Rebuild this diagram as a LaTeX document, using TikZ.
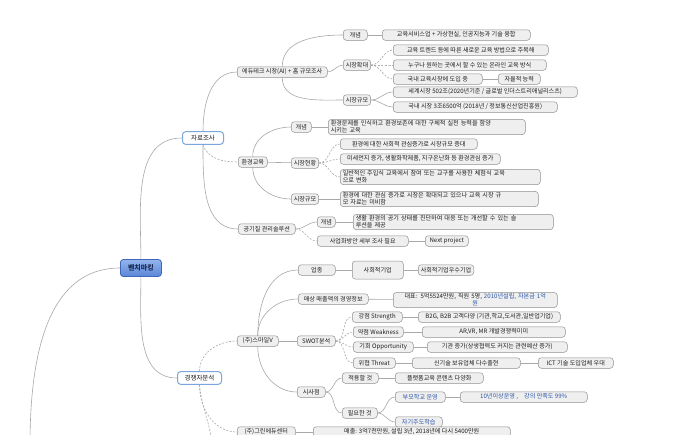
\documentclass[tikz,border=0pt]{standalone}
\usepackage{fontspec}
\setmainfont{Noto Sans CJK KR}
\definecolor{boxfill}{HTML}{EFEFEF}
\definecolor{boxline}{HTML}{909090}
\definecolor{txt}{HTML}{1E1E1E}
\definecolor{lvblue}{HTML}{7BA6DE}
\definecolor{rootline}{HTML}{3F66B8}
\definecolor{roottxt}{HTML}{1B2A55}
\definecolor{lncol}{HTML}{A8A8A8}
\definecolor{bluetxt}{HTML}{2A55A8}
\definecolor{rootA}{HTML}{93B5EE}
\definecolor{rootB}{HTML}{5A86D6}
\pgfdeclarelayer{bg}
\pgfsetlayers{bg,main}
\begin{document}
\begin{tikzpicture}[x=1pt,y=1pt,
  nb/.style={draw=boxline, fill=boxfill, rounded corners=3pt, line width=0.5pt, inner xsep=2.5pt, inner ysep=1.3pt, minimum height=10.5pt, font=\fontsize{6.1}{7}\selectfont, text=txt, anchor=west},
  lv1/.style={draw=lvblue, fill=white, rounded corners=3pt, line width=1pt, minimum height=11.5pt, inner xsep=2pt, font=\fontsize{6.5}{7.5}\selectfont, text=txt, anchor=west},
  rootn/.style={draw=rootline, top color=rootA, bottom color=rootB, rounded corners=3pt, line width=0.8pt, minimum height=17pt, font=\fontsize{7}{8}\selectfont\bfseries, text=roottxt, anchor=west},
  cn/.style={draw=lncol, line width=0.6pt},
  cnd/.style={cn, dash pattern=on 2pt off 1.5pt}
]
\useasboundingbox (0,0) rectangle (700,-434);

% main level
\node[rootn, minimum width=41pt] (root) at (120,-268) {벤치마킹};
\node[lv1, minimum width=41pt] (jr) at (182,-138) {자료조사};
\node[lv1, minimum width=44pt] (comp) at (177,-378) {경쟁자분석};
\coordinate (offbl) at (30,-445);
\coordinate (offc) at (212,-445);

% edutech
\node[nb, minimum width=90pt] (edu) at (237,-72) {에듀테크 시장(AI) + 홈 규모조사};
\node[nb, minimum width=24pt] (g1) at (343,-35) {개념};
\node[nb, minimum width=148pt] (g1c) at (382,-35) {교육서비스업 + 가상현실, 인공지능과 기술 융합};
\node[nb, minimum width=25pt] (exp) at (343,-65) {시장확대};
\node[nb, minimum width=155pt] (e1) at (393,-50) {교육 트렌드 등에 따른 새로운 교육 방법으로 주목해};
\node[nb, minimum width=153pt] (e2) at (393,-65) {누구나 원하는 곳에서 할 수 있는 온라인 교육 방식};
\node[nb, minimum width=89pt] (e3) at (393,-79) {국내 교육시장에 도입 중};
\node[nb, minimum width=42pt] (e3c) at (498,-79) {자율적 능력};
\node[nb, minimum width=25pt] (sz1) at (343,-100) {시장규모};
\node[nb, minimum width=184pt] (s1) at (393,-92) {세계시장 502조(2020년기준 / 글로벌 인더스트리애널리스츠)};
\node[nb, minimum width=164pt] (s2) at (393,-107) {국내 시장 3조6500억 (2018년 / 정보통신산업진흥원)};

% environment education
\node[nb, minimum width=29pt] (env) at (238,-162) {환경교육};
\node[nb, minimum width=20pt] (g2) at (291,-127) {개념};
\node[nb, text width=192pt, align=left] (g2c) at (328,-127) {환경문제를 인식하고 환경보존에 대한 구체적 실천 능력을 함양\\시키는 교육};
\node[nb, minimum width=26pt] (hs) at (291,-163) {시장현황};
\node[nb, minimum width=137pt] (h1) at (340,-144) {환경에 대한 사회적 관심증가로 시장규모 증대};
\node[nb, minimum width=160pt] (h2) at (340,-159) {미세먼지 증가, 생활화학제품, 지구온난화 등 환경관심 증가};
\node[nb, text width=195pt, align=left] (h3) at (340,-177) {일반적인 주입식 교육에서 참여 또는 교구를 사용한 체험식 교육\\으로 변화};
\node[nb, minimum width=26pt] (sz2) at (291,-199) {시장규모};
\node[nb, text width=193pt, align=left] (s3) at (340,-199) {환경에 대한 관심 증가로 시장은 확대되고 있으나 교육 시장 규\\모 자료는 미비함};

% air quality
\node[nb, minimum width=57pt] (air) at (238,-229) {공기질 관리솔루션};
\node[nb, minimum width=18pt] (g3) at (317,-222) {개념};
\node[nb, text width=195pt, align=left] (g3c) at (353,-222) {생활 환경의 공기 상태를 진단하여 대응 또는 개선할 수 있는 솔\\루션을 제공};
\node[nb, minimum width=91pt] (biz) at (317,-241) {사업화방안 세부 조사 필요};
\node[nb, minimum width=43pt] (nxt) at (425,-241) {Next project};

% competitor
\node[nb, minimum width=41pt] (sm) at (237,-341) {(주)스마일V};
\node[nb, minimum width=37pt] (up) at (298,-270) {업종};
\node[nb, minimum width=51pt, minimum height=18pt] (se) at (352,-270) {사회적기업};
\node[nb, minimum width=55pt] (se2) at (418,-270) {사회적기업우수기업};
\node[nb, minimum width=70pt] (ms) at (298,-299) {매상 매출액의 경영정보};
\node[nb, text width=159pt, align=center] (msc) at (393,-300) {대표: 5억5524만원, 직원 5명, \textcolor{bluetxt}{2010년설립, 자본금 1억}\\\textcolor{bluetxt}{원}};
\node[nb, minimum width=38pt] (swot) at (297,-341) {SWOT분석};
\node[nb, minimum width=50pt] (st) at (352,-317) {강점 Strength};
\node[nb, minimum width=142pt] (stc) at (418,-317) {B2G, B2B 고객다양 (기관,학교,도서관,일반업기업)};
\node[nb, minimum width=50pt] (wk) at (353,-332) {약점 Weakness};
\node[nb, minimum width=143pt] (wkc) at (422,-332) {AR,VR, MR 개발경쟁력미미};
\node[nb, minimum width=60pt] (op) at (353,-347) {기회 Opportunity};
\node[nb, minimum width=140pt] (opc) at (427,-347) {기관 증가(상생협력도 커지는 관련예산 증가)};
\node[nb, minimum width=42pt] (th) at (353,-363) {위협 Threat};
\node[nb, minimum width=108pt] (thc) at (412,-363) {신기술 보유업체 다수출현};
\node[nb, minimum width=75pt] (thc2) at (538,-363) {ICT 기술 도입업체 우대};
\node[nb, minimum width=28pt] (sisa) at (297,-392) {시사점};
\node[nb, minimum width=36pt] (ap) at (342,-378) {적용할 것};
\node[nb, minimum width=88pt] (apc) at (395,-378) {플랫폼교육 콘텐츠 다양화};
\node[nb, minimum width=35pt] (nd) at (342,-413) {필요한 것};
\node[nb, minimum width=50pt, text=bluetxt] (pr) at (395,-397) {부모학교 운영};
\node[nb, minimum width=127pt, text=bluetxt] (prc) at (460,-397) {10년이상운영 ,\quad 강의 만족도 99\%};
\node[nb, minimum width=47pt, text=bluetxt] (self) at (395,-422) {자기주도학습};
\node[nb, minimum width=58pt] (bt) at (237,-432) {(주)그린에듀센터};
\node[nb, minimum width=197pt] (btc) at (313,-432) {매출: 3억7천만원, 설립 3년, 2018년에 다시 5400만원};

\begin{pgfonlayer}{bg}
\fill[white] (0,0) rectangle (700,-434);
\draw[cn] (root.north) to[out=90,in=180] (jr.west);
\draw[cn] (root.south) to[out=-90,in=180] (comp.west);
\draw[cn] (root.west) to[out=180,in=90] (offbl);
\draw[cn] (jr.north) to[out=90,in=180] (edu.west);
\draw[cnd] (jr.south) to[out=-70,in=180] (env.west);
\draw[cn] (jr.south) to[out=-90,in=180] (air.west);
\draw[cn] (edu.north) to[out=90,in=180] (g1.west);
\draw[cn] (edu.east) to[out=0,in=180] (exp.west);
\draw[cn] (edu.south) to[out=-90,in=180] (sz1.west);
\draw[cn] (g1) -- (g1c);
\foreach \c in {e1,e2,e3} \draw[cnd] (exp.east) to[out=0,in=180] (\c.west);
\draw[cn] (e3) -- (e3c);
\foreach \c in {s1,s2} \draw[cn] (sz1.east) to[out=0,in=180] (\c.west);
\draw[cn] (env.north) to[out=90,in=180] (g2.west);
\draw[cn] (env) -- (hs);
\draw[cn] (env.south) to[out=-90,in=180] (sz2.west);
\draw[cn] (g2) -- (g2c);
\foreach \c in {h1,h2,h3} \draw[cnd] (hs.east) to[out=0,in=180] (\c.west);
\draw[cn] (sz2) -- (s3);
\draw[cn] (air.east) to[out=0,in=180] (g3.west);
\draw[cnd] (air.east) to[out=0,in=180] (biz.west);
\draw[cn] (g3) -- (g3c);
\draw[cn] (biz) -- (nxt);
\draw[cnd] (comp.north) to[out=90,in=180] (sm.west);
\draw[cnd] (comp.south) to[out=-90,in=180] (bt.west);
\draw[cnd] (comp.south) to[out=-85,in=95] (offc);
\draw[cn] (sm.north) to[out=90,in=180] (up.west);
\draw[cn] (sm.north) to[out=90,in=180] (ms.west);
\draw[cn] (sm) -- (swot);
\draw[cn] (sm.south) to[out=-90,in=180] (sisa.west);
\draw[cn] (up) -- (se);
\draw[cn] (se) -- (se2);
\draw[cn] (ms) -- (msc);
\foreach \c in {st,wk,op,th} \draw[cnd] (swot.east) to[out=0,in=180] (\c.west);
\draw[cn] (st) -- (stc);
\draw[cn] (wk) -- (wkc);
\draw[cn] (op) -- (opc);
\draw[cn] (th) -- (thc);
\draw[cn] (thc) -- (thc2);
\draw[cn] (sisa.east) to[out=0,in=180] (ap.west);
\draw[cn] (sisa.east) to[out=0,in=180] (nd.west);
\draw[cn] (ap) -- (apc);
\draw[cn] (nd.east) to[out=0,in=180] (pr.west);
\draw[cn] (nd.east) to[out=0,in=180] (self.west);
\draw[cn] (pr) -- (prc);
\draw[cn] (bt) -- (btc);
\end{pgfonlayer}
\end{tikzpicture}
\end{document}
